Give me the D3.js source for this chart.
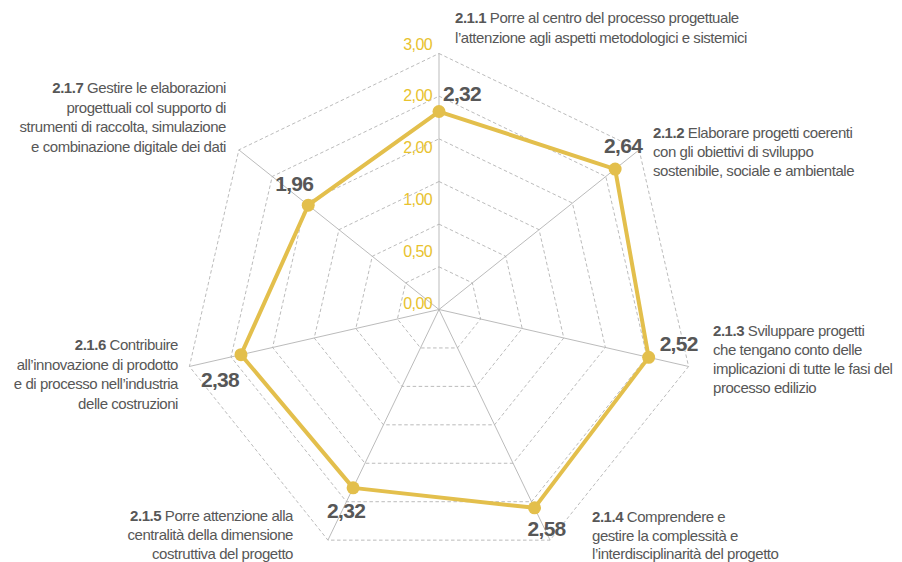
<!DOCTYPE html>
<html>
<head>
<meta charset="utf-8">
<script src="https://cdn.jsdelivr.net/npm/d3@7"></script>
<style>
  html, body { margin: 0; padding: 0; background: #ffffff; }
  svg { display: block; font-family: "Liberation Sans", Arial, sans-serif; }
</style>
</head>
<body>
<svg id="chart" width="902" height="562"></svg>
<script>
// Competence codes and their descriptions (one entry per axis, clockwise from the top)
const codes = ["2.1.1", "2.1.2", "2.1.3", "2.1.4", "2.1.5", "2.1.6", "2.1.7"];
const descriptions = [
  ["Porre al centro del processo progettuale", "l’attenzione agli aspetti metodologici e sistemici"],
  ["Elaborare progetti coerenti", "con gli obiettivi di sviluppo", "sostenibile, sociale e ambientale"],
  ["Sviluppare progetti", "che tengano conto delle", "implicazioni di tutte le fasi del", "processo edilizio"],
  ["Comprendere e", "gestire la complessità e", "l’interdisciplinarità del progetto"],
  ["Porre attenzione alla", "centralità della dimensione", "costruttiva del progetto"],
  ["Contribuire", "all’innovazione di prodotto", "e di processo nell’industria", "delle costruzioni"],
  ["Gestire le elaborazioni", "progettuali col supporto di", "strumenti di raccolta, simulazione", "e combinazione digitale dei dati"]
];
// Average score per competence
const values = [2.32, 2.64, 2.52, 2.58, 2.32, 2.38, 1.96];
const valueLabels = ["2,32", "2,64", "2,52", "2,58", "2,32", "2,38", "1,96"];
// Grid rings and scale labels
const gridLevels = [0.5, 1, 1.5, 2, 2.5, 3];
const tickLabels = ["0,00", "0,50", "1,00", "2,00", "2,00", "3,00"];

// ---- layout ----
const cx = 439, cy = 309.5, R = 256;
const n = codes.length;
const gold = "#e3bf4c";
const tickGold = "#e8c22e";
const gridColor = "#b3b3b3";
const textGray = "#575757";

// value label placement relative to its point: [dx, dy, anchor]
const valueLabelOffset = [
  [4, -11, "start"], [27, -16, "end"], [11, -6, "start"], [-7, 28, "start"],
  [-26, 30, "start"], [-2, 32, "end"], [-33, -14, "start"]
];
// description blocks: [x, first baseline, anchor, line height]
const descLayout = [
  [455, 23, "start", 20], [653, 138, "start", 19], [713, 336, "start", 19],
  [592, 522, "start", 18.5], [293, 521, "end", 19], [178, 350, "end", 19.5],
  [226, 93, "end", 19.5]
];

const svg = d3.select("#chart");
const r = d3.scaleLinear().domain([0, 3]).range([0, R]);
const angle = d3.scaleLinear().domain([0, n]).range([0, 2 * Math.PI]);
const px = (i, v) => cx + r(v) * Math.sin(angle(i));
const py = (i, v) => cy - r(v) * Math.cos(angle(i));

const g = svg.append("g").attr("transform", `translate(${cx},${cy})`);

// dashed heptagonal rings
const ringLine = d3.lineRadial()
  .angle((d, i) => angle(i))
  .radius(d => r(d))
  .curve(d3.curveLinearClosed);
g.selectAll("path.ring")
  .data(gridLevels)
  .join("path")
  .attr("class", "ring")
  .attr("d", lv => ringLine(d3.range(n).map(() => lv)))
  .attr("fill", "none")
  .attr("stroke", gridColor)
  .attr("stroke-width", 0.9)
  .attr("stroke-dasharray", "3.5,2.5");

// solid spokes
g.selectAll("line.spoke")
  .data(d3.range(n))
  .join("line")
  .attr("class", "spoke")
  .attr("x1", 0).attr("y1", 0)
  .attr("x2", i => r(3) * Math.sin(angle(i)))
  .attr("y2", i => -r(3) * Math.cos(angle(i)))
  .attr("stroke", gridColor)
  .attr("stroke-width", 0.9);

// scale labels along the top axis
const tickY = d3.scaleLinear().domain([0, tickLabels.length - 1]).range([309, 49.5]);
svg.selectAll("text.tick")
  .data(tickLabels)
  .join("text")
  .attr("class", "tick")
  .attr("x", 432)
  .attr("y", (d, i) => tickY(i))
  .attr("text-anchor", "end")
  .attr("fill", tickGold)
  .attr("font-size", 16)
  .attr("letter-spacing", -0.6)
  .text(d => d);

// data polygon
const dataLine = d3.lineRadial()
  .angle((d, i) => angle(i))
  .radius(d => r(d))
  .curve(d3.curveLinearClosed);
g.append("path")
  .attr("d", dataLine(values))
  .attr("fill", "none")
  .attr("stroke", gold)
  .attr("stroke-width", 4)
  .attr("stroke-linejoin", "round");

g.selectAll("circle.pt")
  .data(values)
  .join("circle")
  .attr("class", "pt")
  .attr("cx", (d, i) => r(d) * Math.sin(angle(i)))
  .attr("cy", (d, i) => -r(d) * Math.cos(angle(i)))
  .attr("r", 6.5)
  .attr("fill", gold);

// value labels
svg.selectAll("text.val")
  .data(values)
  .join("text")
  .attr("class", "val")
  .attr("x", (d, i) => px(i, d) + valueLabelOffset[i][0])
  .attr("y", (d, i) => py(i, d) + valueLabelOffset[i][1])
  .attr("text-anchor", (d, i) => valueLabelOffset[i][2])
  .attr("fill", textGray)
  .attr("font-size", 21)
  .attr("font-weight", "bold")
  .attr("letter-spacing", -0.7)
  .text((d, i) => valueLabels[i]);

// axis descriptions
codes.forEach((code, i) => {
  const [x, y0, anchor, lh] = descLayout[i];
  descriptions[i].forEach((line, j) => {
    const t = svg.append("text")
      .attr("x", x)
      .attr("y", y0 + j * lh)
      .attr("text-anchor", anchor)
      .attr("fill", textGray)
      .attr("font-size", 15)
      .attr("letter-spacing", -0.45);
    if (j === 0) {
      t.append("tspan").attr("font-weight", "bold").text(code + " ");
    }
    t.append("tspan").text(line);
  });
});
</script>
</body>
</html>
